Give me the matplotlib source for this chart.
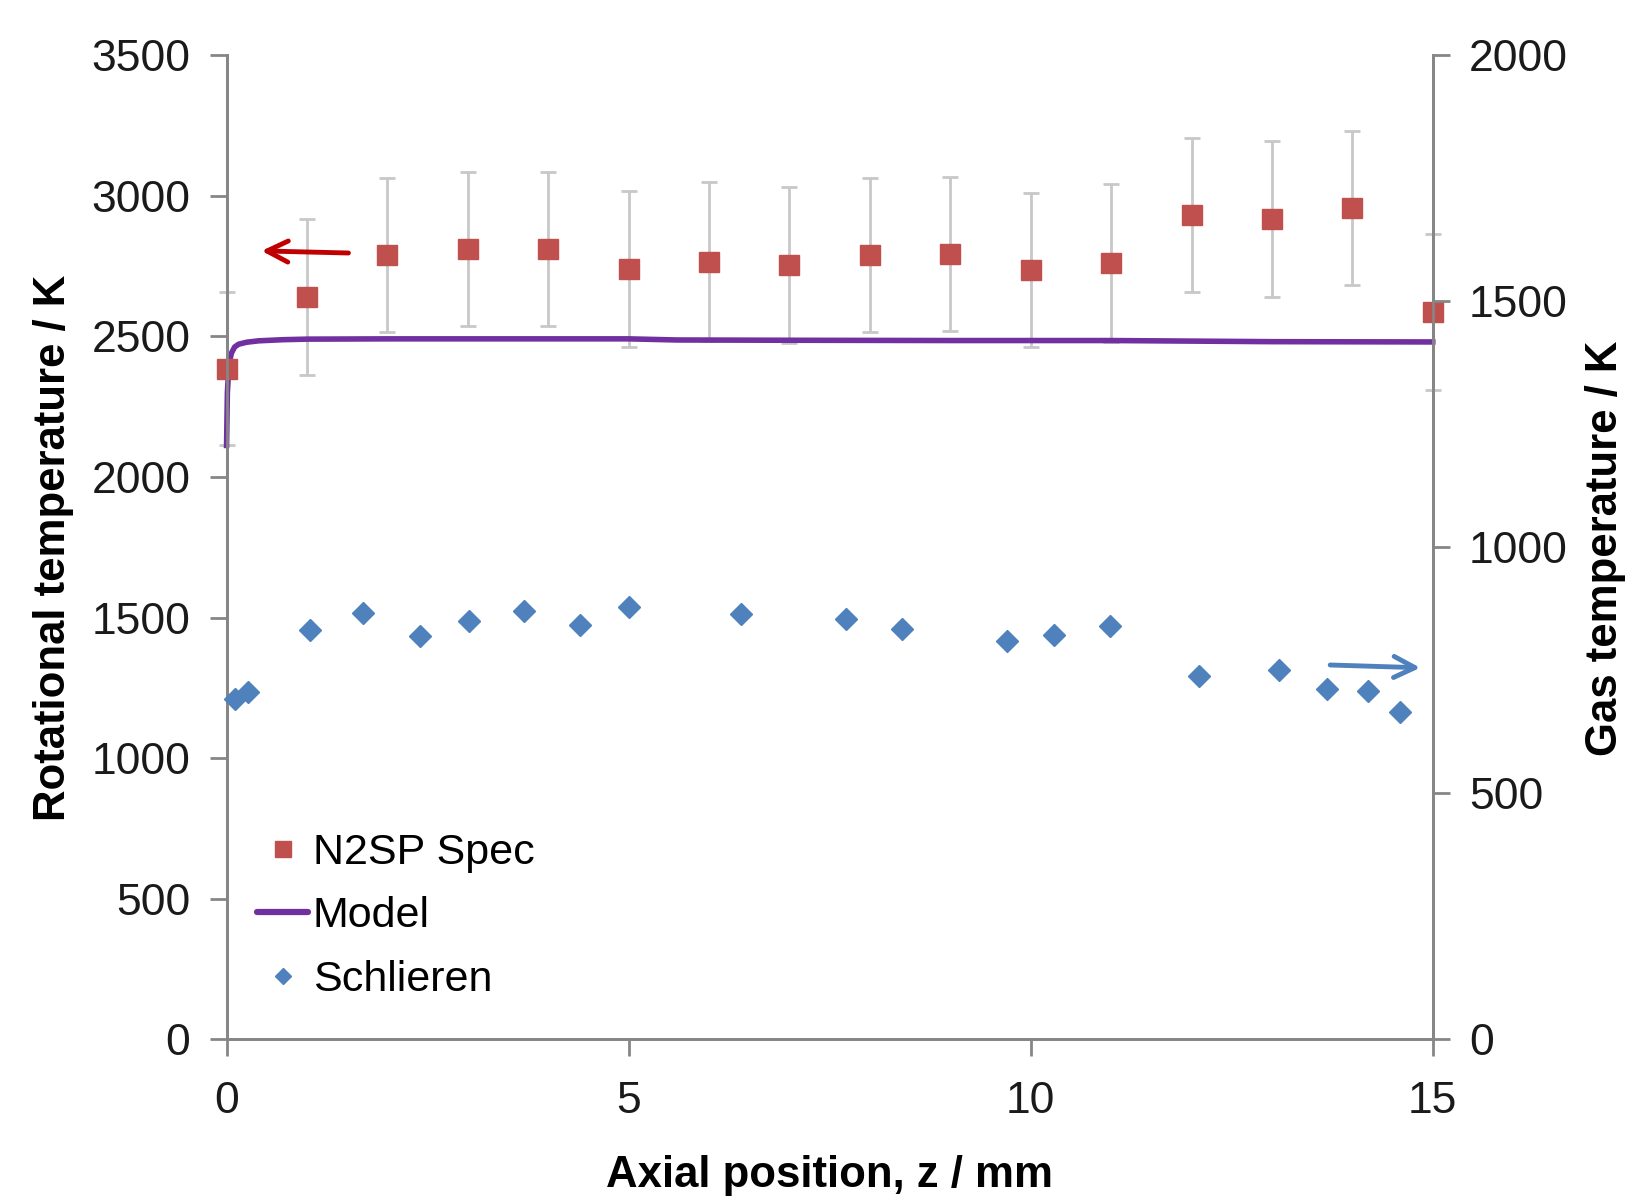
import matplotlib.pyplot as plt
from matplotlib.lines import Line2D

plt.rcParams['font.family'] = ['Liberation Sans', 'DejaVu Sans']

# N2SP spectroscopy, rotational temperature (left axis)
spec_z = [0, 1, 2, 3, 4, 5, 6, 7, 8, 9, 10, 11, 12, 13, 14, 15]
spec_t = [2384, 2640, 2790, 2810, 2812, 2740, 2765, 2754, 2790, 2793, 2736, 2760, 2931, 2917, 2955, 2586]
spec_err = [272, 277, 273, 274, 274, 277, 282, 277, 273, 273, 274, 281, 274, 278, 274, 278]

# model curve (left axis)
model_z = [0, 0.01, 0.03, 0.06, 0.1, 0.15, 0.25, 0.4, 0.7, 1.0, 2, 3, 4, 5, 5.6, 7, 9, 11, 13, 15]
model_t = [2112, 2300, 2400, 2440, 2462, 2472, 2479, 2484, 2488, 2490, 2491, 2491, 2491, 2491, 2487, 2486, 2485, 2485, 2481, 2480]

# Schlieren gas temperature (right axis)
schl_z = [0.10, 0.27, 1.04, 1.70, 2.40, 3.01, 3.70, 4.40, 5.00, 6.40, 7.70, 8.40,
          9.70, 10.29, 10.99, 12.09, 13.09, 13.69, 14.19, 14.59]
schl_t = [692, 706, 832, 866, 819, 851, 871, 843, 879, 864, 854, 834,
          810, 822, 840, 739, 750, 713, 707, 665]

red = '#c0504d'
blue = '#4f81bd'
purple = '#7030a0'
grey = '#868686'

fig = plt.figure(figsize=(16.3, 11.97), dpi=100)
ax = fig.add_axes([0.139, 0.1316, 0.740, 0.8224])
ax2 = ax.twinx()

ax.errorbar(spec_z, spec_t, yerr=spec_err, fmt='none', ecolor='#c8c8c8',
            elinewidth=2, capsize=6, capthick=2, zorder=2, clip_on=False)
ax.plot(model_z, model_t, color=purple, lw=4, zorder=3, clip_on=False)
ax.plot(spec_z, spec_t, 's', color=red, ms=14, zorder=4, clip_on=False)
ax2.plot(schl_z, schl_t, 'D', color=blue, ms=11, zorder=4, clip_on=False)

# direction arrows
ax.annotate('', xy=(0.40, 2804), xytext=(1.55, 2796),
            arrowprops=dict(arrowstyle='->', color='#c00000', lw=3.5, mutation_scale=38))
ax2.annotate('', xy=(14.88, 755), xytext=(13.69, 761),
             arrowprops=dict(arrowstyle='->', color=blue, lw=3.5, mutation_scale=38))

ax.set_xlim(0, 15)
ax.set_ylim(0, 3500)
ax2.set_ylim(0, 2000)
ax.set_xticks([0, 5, 10, 15])
ax.set_yticks(range(0, 3501, 500))
ax2.set_yticks(range(0, 2001, 500))

for a in (ax, ax2):
    a.spines['top'].set_visible(False)
    for s in a.spines.values():
        s.set_color(grey)
        s.set_linewidth(2)
    a.tick_params(labelsize=32, length=12, width=2, color=grey, labelcolor='#1a1a1a')
ax.tick_params(axis='y', pad=14)
ax2.tick_params(axis='y', pad=14)
ax.tick_params(axis='x', pad=18)
ax.set_zorder(1)
ax2.set_zorder(2)
ax.patch.set_visible(False)

fig.text(0.033, 0.542, 'Rotational temperature / K', rotation=90, ha='center', va='center',
         fontsize=31.5, fontweight='bold')
fig.text(0.985, 0.542, 'Gas temperature / K', rotation=90, ha='center', va='center',
         fontsize=31.5, fontweight='bold')
fig.text(0.509, 0.018, 'Axial position, z / mm', ha='center', va='center',
         fontsize=31.5, fontweight='bold')

handles = [Line2D([], [], ls='none', marker='s', color=red, ms=12),
           Line2D([], [], color=purple, lw=4.5, solid_capstyle='round'),
           Line2D([], [], ls='none', marker='D', color=blue, ms=8)]
ax2.legend(handles, ['N2SP Spec', 'Model', 'Schlieren'], loc='lower left',
           bbox_to_anchor=(0.025, 0.04), frameon=False, fontsize=31,
           handlelength=1.2, handletextpad=0.1, labelspacing=0.55,
           borderpad=0, borderaxespad=0)

fig.savefig('out.png', dpi=100)
